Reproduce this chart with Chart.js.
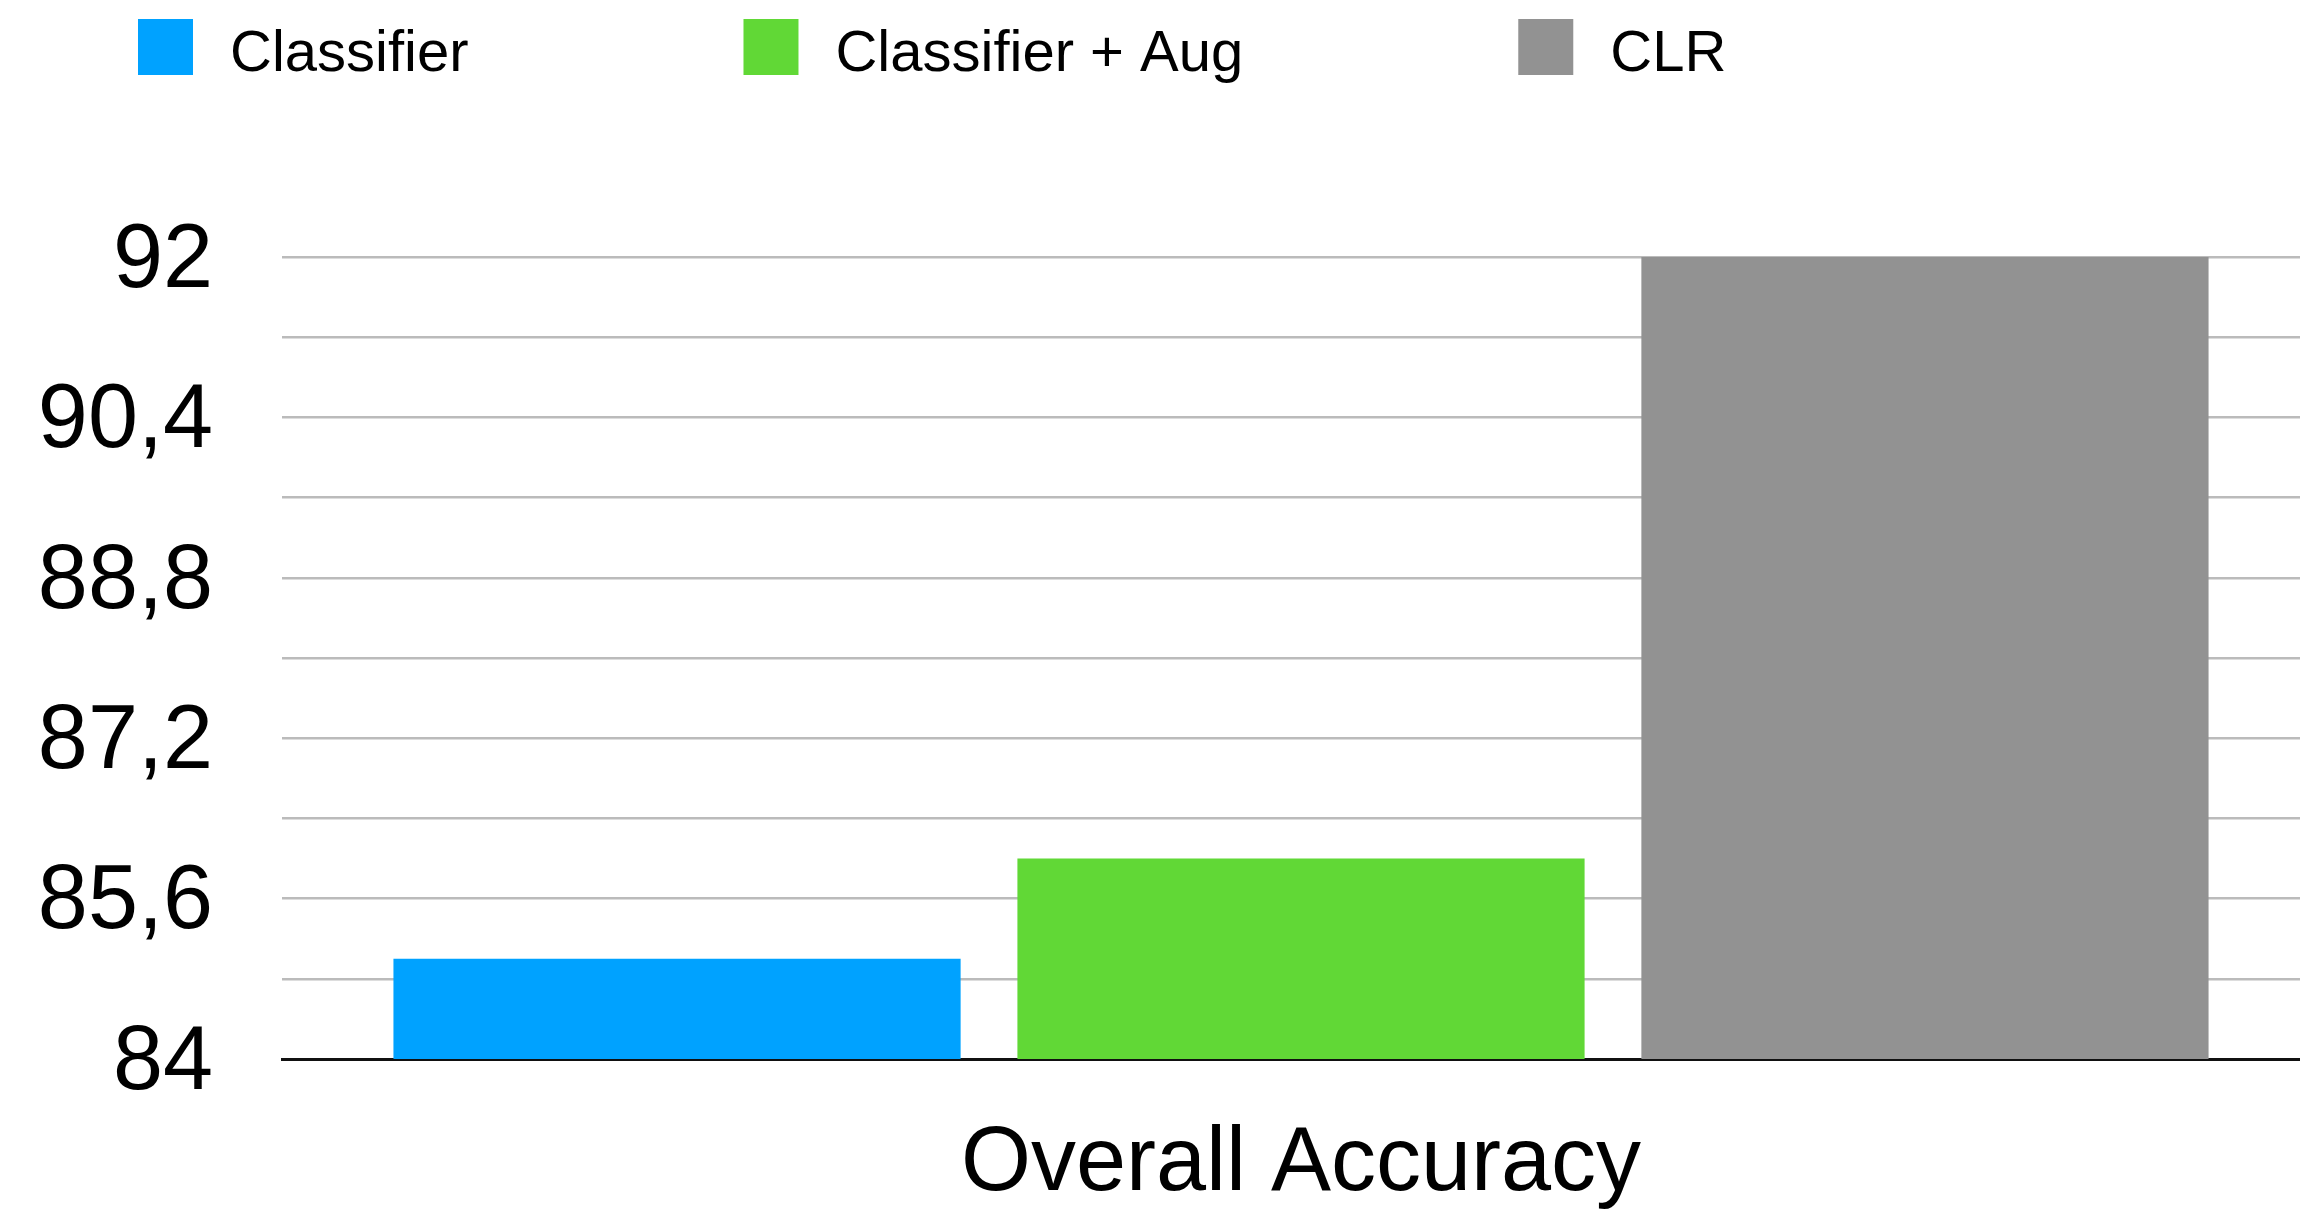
<!DOCTYPE html>
<html>
<head>
<meta charset="utf-8">
<script src="https://cdn.jsdelivr.net/npm/chart.js@4/dist/chart.umd.min.js"></script>
<style>
  html, body { margin: 0; padding: 0; background: #ffffff; overflow: hidden; }
  #wrap { width: 2320px; height: 1219px; position: relative; }
</style>
</head>
<body>
<div id="wrap"><canvas id="chart"></canvas></div>
<script>
// Categories and series
const categories = ['Overall Accuracy'];
const seriesNames = ['Classifier', 'Classifier + Aug', 'CLR'];
const classifierValues = [85.0];
const classifierAugValues = [86.0];
const clrValues = [92.0];
const seriesColors = ['#00A2FF', '#61D836', '#929292'];

// Y axis ticks (a grid line every 0.8, a label every other line)
const yTickValues = [84, 84.8, 85.6, 86.4, 87.2, 88, 88.8, 89.6, 90.4, 91.2, 92];
const yTickLabels = ['84', '', '85,6', '', '87,2', '', '88,8', '', '90,4', '', '92'];

const FONT = '"Liberation Sans", Arial, Helvetica, sans-serif';

// Legend row drawn above the plot from the dataset labels and colours
const legendRow = {
  id: 'legendRow',
  afterDraw(chart) {
    const ctx = chart.ctx;
    const boxW = 55, boxH = 56, boxTop = 19, gapText = 37, gapItem = 275;
    let x = 138;
    ctx.save();
    ctx.font = '58px ' + FONT;
    ctx.textBaseline = 'alphabetic';
    ctx.textAlign = 'left';
    chart.data.datasets.forEach(ds => {
      ctx.fillStyle = ds.backgroundColor;
      ctx.fillRect(x, boxTop, boxW, boxH);
      const tx = x + boxW + gapText;
      ctx.fillStyle = '#000000';
      ctx.fillText(ds.label, tx, 71);
      x = tx + ctx.measureText(ds.label).width + gapItem;
    });
    ctx.restore();
  }
};

const seriesValues = [classifierValues, classifierAugValues, clrValues];

new Chart(document.getElementById('chart'), {
  type: 'bar',
  data: {
    labels: categories,
    datasets: seriesNames.map((name, i) => ({
      label: name,
      data: seriesValues[i],
      backgroundColor: seriesColors[i],
      borderWidth: 0,
      categoryPercentage: 0.9185,
      barPercentage: 0.909
    }))
  },
  options: {
    responsive: true,
    maintainAspectRatio: false,
    animation: false,
    layout: { padding: { top: 257, left: 0, right: 0, bottom: 0 } },
    plugins: {
      legend: { display: false },
      tooltip: { enabled: false }
    },
    scales: {
      x: {
        grid: { display: false, drawTicks: false },
        border: { display: true, color: '#111111', width: 3 },
        ticks: {
          color: '#000000',
          font: { family: FONT, size: 90 },
          padding: 52
        },
        afterFit(scale) { scale.height = 160; }
      },
      y: {
        min: 84,
        max: 92,
        afterBuildTicks(scale) {
          scale.ticks = yTickValues.map(v => ({ value: v }));
        },
        grid: { color: '#bbbbbb', lineWidth: 2.5, drawTicks: false },
        border: { display: false },
        ticks: {
          autoSkip: false,
          color: '#000000',
          font: { family: FONT, size: 90 },
          padding: 69,
          labelOffset: 5,
          callback(value, index) { return yTickLabels[index]; }
        },
        afterFit(scale) { scale.width = 282; }
      }
    }
  },
  plugins: [legendRow]
});
</script>
</body>
</html>
